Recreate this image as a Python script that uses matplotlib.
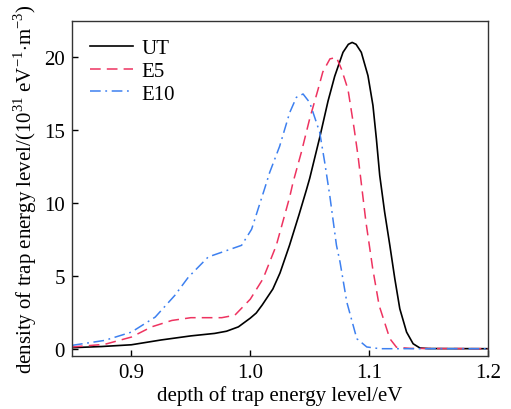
import matplotlib
matplotlib.use("Agg")
import matplotlib.pyplot as plt

plt.rcParams['font.family'] = ['Liberation Serif', 'DejaVu Serif']
plt.rcParams['mathtext.fontset'] = 'custom'
plt.rcParams['mathtext.rm'] = 'Liberation Serif'

ut_x = [0.85, 0.875, 0.90, 0.925, 0.95, 0.97, 0.98, 0.99, 1.00, 1.005, 1.01, 1.019, 1.025,
        1.033, 1.041, 1.0472, 1.05, 1.0584, 1.0654, 1.071, 1.078, 1.0825, 1.0857, 1.089,
        1.0934, 1.099, 1.1032, 1.1061, 1.1089, 1.113, 1.1174, 1.1216, 1.1258, 1.1315,
        1.137, 1.1427, 1.15, 1.2]
ut_y = [0.07, 0.15, 0.27, 0.6, 0.88, 1.05, 1.2, 1.5, 2.1, 2.45, 3.0, 4.1, 5.2,
        7.1, 9.2, 10.9, 11.7, 14.5, 17.0, 18.7, 20.35, 20.9, 21.03, 20.9,
        20.35, 18.75, 16.7, 14.4, 11.9, 9.4, 7.1, 4.8, 2.74, 1.14,
        0.34, 0.05, 0.01, 0.0]

e5_x = [0.85, 0.8775, 0.90, 0.917, 0.934, 0.95, 0.976, 0.987, 1.00, 1.0107, 1.0219, 1.0331,
        1.0359, 1.043, 1.05, 1.057, 1.061, 1.067, 1.0725, 1.0767, 1.0822, 1.0874, 1.0907,
        1.0973, 1.103, 1.1084, 1.1174, 1.123, 1.135, 1.2]
e5_y = [0.12, 0.3, 0.8, 1.5, 1.94, 2.13, 2.13, 2.3, 3.4, 4.8, 7.1, 10.4,
        11.4, 13.5, 15.8, 17.8, 19.0, 19.9, 20.0, 19.2, 17.8, 15.1, 13.2,
        8.7, 5.5, 2.97, 0.69, 0.1, 0.02, 0.0]

e10_x = [0.85, 0.8775, 0.90, 0.92, 0.9365, 0.9478, 0.9646, 0.9787, 0.9927, 1.0011, 1.0121,
         1.0163, 1.0247, 1.0331, 1.0388, 1.0444, 1.05, 1.0584, 1.0626, 1.0669, 1.0725,
         1.0755, 1.0812, 1.0896, 1.098, 1.109, 1.2]
e10_y = [0.23, 0.57, 1.14, 2.17, 3.66, 4.9, 6.3, 6.7, 7.1, 8.2, 11.0,
         12.1, 13.9, 16.2, 17.26, 17.49, 16.9, 14.86, 12.8, 10.5, 7.1,
         5.95, 3.2, 0.69, 0.12, 0.0, 0.0]

labels = ['UT', 'E5', 'E10']
x_ticks = [0.9, 1.0, 1.1, 1.2]
y_ticks = [0, 5, 10, 15, 20]

fig = plt.figure(figsize=(5.11, 4.10), dpi=100)
ax = fig.add_axes([0.1409, 0.1293, 0.955 - 0.1409, 0.9463 - 0.1293])

ax.plot(ut_x, ut_y, color='black', lw=1.2, label=labels[0])
ax.plot(e5_x, e5_y, color='#ee3360', lw=1.1, dashes=(7, 4), label=labels[1])
ax.plot(e10_x, e10_y, color='#3d80f0', lw=1.1, dashes=(7, 3, 1.2, 3), label=labels[2])

ax.set_xlim(0.85, 1.2)
ax.set_ylim(-0.5, 22.5)
ax.set_xticks(x_ticks)
ax.set_xticklabels(['0.9', '1.0', '1.1', '1.2'])
ax.set_yticks(y_ticks)
ax.tick_params(direction='in', length=4, width=1, labelsize=15, top=False, right=False, pad=5)
for s in ax.spines.values():
    s.set_linewidth(1.0)
    s.set_color('#333333')

ax.set_xlabel('depth of trap energy level/eV', fontsize=15, labelpad=2)
ax.set_ylabel(r'density of trap energy level/(10$^{31}$ eV$^{-1}$$\cdot$m$^{-3}$)', fontsize=15, labelpad=4)

ax.legend(loc='upper left', frameon=False, fontsize=15, handlelength=2.1, handletextpad=0.4,
          labelspacing=0.15, borderaxespad=0.45, bbox_to_anchor=(0.0, 1.0))

fig.savefig('out.png', dpi=100)
